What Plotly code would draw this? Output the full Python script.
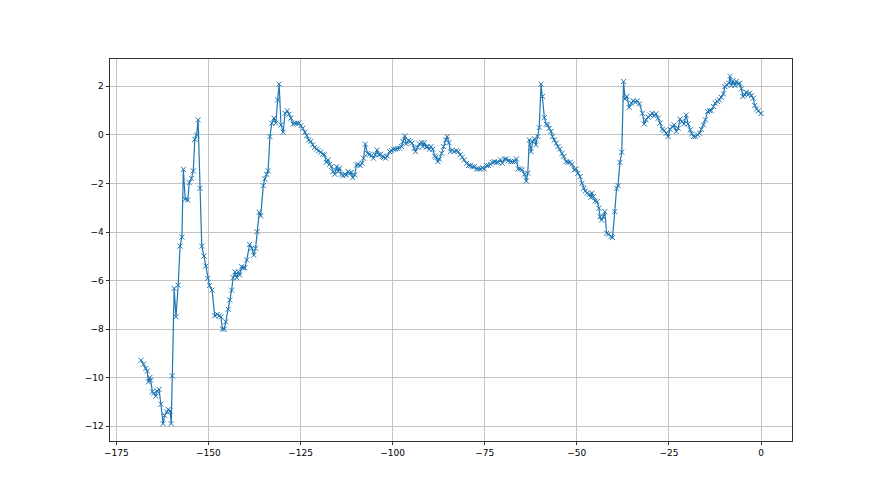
import plotly.graph_objects as go

# values
x_vals = [
    -168.3, -167.6, -167.0, -166.6, -166.3, -165.9, -165.7, -165.2, -164.8, -164.3,
    -163.9, -163.4, -162.9, -162.3, -161.9, -161.3, -160.9, -160.4, -160.1, -159.8,
    -159.3, -158.8, -158.2, -157.7, -157.2, -156.8, -156.3, -155.6, -155.2, -154.6,
    -154.1, -153.7, -153.2, -152.8, -152.3, -151.8, -151.2, -150.7, -150.2, -149.7,
    -149.0, -148.3, -147.6, -147.1, -146.6, -146.2, -145.7, -145.3, -144.6, -144.2,
    -143.7, -143.3, -142.8, -142.3, -141.9, -141.5, -141.0, -140.5, -140.1, -139.6,
    -138.8, -138.2, -137.7, -137.2, -136.8, -136.2, -135.8, -135.1, -134.7, -134.2,
    -133.8, -133.3, -132.8, -132.2, -131.7, -131.2, -130.8, -130.3, -129.7, -129.2,
    -128.6, -128.1, -127.6, -127.0, -126.5, -126.0, -125.5, -124.9, -124.4, -123.8,
    -123.3, -122.8, -122.2, -121.7, -121.2, -120.6, -120.1, -119.5, -119.0, -118.5,
    -118.0, -117.5, -117.1, -116.6, -116.2, -115.7, -115.2, -114.8, -114.4, -113.9,
    -113.5, -113.0, -112.6, -112.1, -111.7, -111.2, -110.8, -110.3, -109.8, -109.4,
    -108.8, -108.3, -107.9, -107.4, -106.8, -106.3, -105.7, -105.2, -104.7, -104.2,
    -103.8, -103.3, -102.8, -102.4, -101.9, -101.4, -100.8, -100.3, -99.8, -99.2,
    -98.7, -98.1, -97.6, -97.2, -96.7, -96.3, -95.7, -95.2, -94.7, -94.1,
    -93.8, -93.2, -92.7, -92.1, -91.8, -91.4, -90.9, -90.5, -90.0, -89.6,
    -89.1, -88.6, -88.2, -87.7, -87.3, -86.7, -86.2, -85.6, -85.2, -84.7,
    -84.3, -83.8, -83.3, -82.7, -82.2, -81.7, -81.1, -80.6, -79.9, -79.4,
    -78.9, -78.3, -77.8, -77.2, -76.7, -76.1, -75.6, -75.1, -74.5, -74.0,
    -73.4, -72.9, -72.4, -71.8, -71.3, -70.7, -70.2, -69.6, -69.1, -68.6,
    -68.0, -67.5, -66.9, -66.4, -65.9, -65.3, -64.8, -64.2, -63.7, -63.3,
    -62.9, -62.4, -62.0, -61.5, -61.1, -60.6, -60.2, -59.7, -59.3, -58.8,
    -58.3, -57.9, -57.5, -57.0, -56.6, -56.1, -55.6, -55.1, -54.6, -54.0,
    -53.5, -52.9, -52.4, -51.8, -51.3, -50.7, -50.2, -49.7, -49.1, -48.6,
    -48.1, -47.7, -47.2, -46.6, -46.2, -45.9, -45.5, -45.0, -44.5, -44.0,
    -43.7, -43.3, -42.8, -42.4, -41.9, -41.4, -40.7, -40.3, -39.7, -39.2,
    -38.8, -38.3, -37.8, -37.3, -36.9, -36.4, -35.8, -35.2, -34.7, -34.1,
    -33.6, -33.0, -32.2, -31.7, -31.2, -30.6, -30.1, -29.5, -29.0, -28.5,
    -27.9, -27.4, -26.8, -26.3, -25.7, -25.2, -24.7, -24.1, -23.6, -23.0,
    -22.5, -22.0, -21.4, -20.9, -20.3, -19.8, -19.2, -18.8, -18.3, -17.8,
    -17.2, -16.7, -16.2, -15.6, -15.1, -14.5, -14.0, -13.5, -12.9, -12.4,
    -11.8, -11.3, -10.8, -10.2, -9.8, -9.3, -8.7, -8.4, -8.0, -7.6,
    -7.1, -6.7, -6.2, -5.8, -5.3, -4.9, -4.4, -4.0, -3.5, -3.1,
    -2.6, -2.1, -1.7, -1.2, -0.7, 0.0,
]
y_vals = [
    -9.28, -9.44, -9.62, -9.72, -10.17, -9.99, -10.1, -10.58, -10.64, -10.76,
    -10.55, -10.48, -11.09, -11.89, -11.55, -11.41, -11.31, -11.37, -11.89, -9.92,
    -6.32, -7.49, -6.19, -4.58, -4.21, -1.42, -2.65, -2.68, -1.97, -1.79,
    -1.48, -0.18, 0.0, 0.62, -2.2, -4.58, -4.99, -5.40, -5.91, -6.2,
    -6.39, -7.45, -7.39, -7.45, -7.49, -8.0, -8.0, -7.70, -7.18, -6.80,
    -6.39, -5.88, -5.64, -5.88, -5.64, -5.77, -5.43, -5.47, -5.47, -5.15,
    -4.51, -4.67, -4.95, -4.67, -3.99, -3.19, -3.33, -2.09, -1.81, -1.62,
    -1.48, -0.07, 0.48, 0.69, 0.48, 1.44, 2.09, 0.41, 0.11, 0.89,
    0.99, 0.85, 0.69, 0.44, 0.48, 0.48, 0.48, 0.38, 0.27, 0.11,
    -0.03, -0.21, -0.27, -0.41, -0.52, -0.58, -0.66, -0.71, -0.80, -0.82,
    -1.13, -1.03, -1.21, -1.31, -1.51, -1.62, -1.31, -1.51, -1.37, -1.62,
    -1.68, -1.62, -1.65, -1.51, -1.58, -1.55, -1.76, -1.65, -1.24, -1.21,
    -1.26, -1.17, -0.96, -0.38, -0.76, -0.80, -0.85, -0.96, -0.82, -0.62,
    -0.82, -0.80, -0.89, -0.92, -0.96, -0.87, -0.69, -0.65, -0.59, -0.59,
    -0.56, -0.55, -0.48, -0.27, -0.04, -0.37, -0.23, -0.27, -0.34, -0.55,
    -0.69, -0.51, -0.37, -0.32, -0.48, -0.32, -0.51, -0.48, -0.59, -0.48,
    -0.59, -0.87, -0.92, -1.10, -1.00, -0.76, -0.48, -0.21, -0.07, -0.32,
    -0.69, -0.62, -0.69, -0.65, -0.69, -0.82, -0.92, -1.03, -1.17, -1.26,
    -1.26, -1.31, -1.31, -1.40, -1.40, -1.40, -1.35, -1.40, -1.26, -1.26,
    -1.21, -1.13, -1.10, -1.13, -1.13, -1.03, -1.17, -0.99, -0.99, -1.07,
    -1.10, -1.10, -1.10, -0.99, -1.40, -1.40, -1.44, -1.62, -1.90, -1.58,
    -0.21, -0.69, -0.27, -0.16, -0.41, -0.07, 0.30, 2.09, 1.58, 0.71,
    0.44, 0.41, 0.27, 0.14, -0.07, -0.21, -0.34, -0.48, -0.58, -0.76,
    -0.89, -1.10, -1.13, -1.13, -1.21, -1.44, -1.40, -1.58, -1.72, -1.99,
    -2.20, -2.31, -2.40, -2.45, -2.58, -2.40, -2.54, -2.72, -2.75, -3.02,
    -3.37, -3.51, -3.37, -3.16, -4.05, -4.09, -4.19, -4.23, -3.16, -2.20,
    -2.09, -1.13, -0.71, 2.20, 1.48, 1.58, 1.13, 1.31, 1.40, 1.35,
    1.40, 1.28, 0.89, 0.45, 0.62, 0.73, 0.82, 0.89, 0.78, 0.87,
    0.69, 0.48, 0.23, 0.18, 0.07, -0.07, 0.23, 0.34, 0.41, 0.14,
    0.27, 0.65, 0.55, 0.45, 0.82, 0.45, 0.21, 0.04, -0.07, -0.07,
    0.0, 0.07, 0.23, 0.41, 0.62, 0.96, 1.00, 1.00, 1.17, 1.31,
    1.37, 1.44, 1.55, 1.69, 1.99, 2.06, 2.13, 2.41, 2.04, 2.23,
    2.04, 2.20, 2.09, 2.13, 1.90, 1.58, 1.65, 1.76, 1.65, 1.72,
    1.62, 1.51, 1.21, 1.07, 0.99, 0.88,
]


def padded(vals, frac=0.05):
    lo, hi = min(vals), max(vals)
    pad = (hi - lo) * frac
    return [lo - pad, hi + pad]


fig = go.Figure()
fig.add_trace(go.Scatter(
    x=x_vals, y=y_vals, mode='lines+markers',
    line=dict(color='#1f77b4', width=1.2),
    marker=dict(symbol='x-thin', size=5, line=dict(color='#1f77b4', width=1)),
))

axis_style = dict(
    showline=True, mirror=True, linecolor='#333333', linewidth=0.8,
    ticks='outside', ticklen=3.5, tickwidth=0.8, tickcolor='#333333',
    showgrid=True, gridcolor='#c4c4c4', gridwidth=0.8, zeroline=False,
    tickfont=dict(family='DejaVu Sans', size=9, color='black'),
)

# page body adds an 8px offset, so the margins are shifted to compensate
fig.update_layout(
    width=880, height=495,
    margin=dict(l=102, r=96, t=51, b=62),
    plot_bgcolor='white', paper_bgcolor='white',
    showlegend=False,
)
fig.update_xaxes(range=padded(x_vals), tick0=0, dtick=25, **axis_style)
fig.update_yaxes(range=padded(y_vals), tick0=0, dtick=2, **axis_style)

fig.write_html("out.html")
